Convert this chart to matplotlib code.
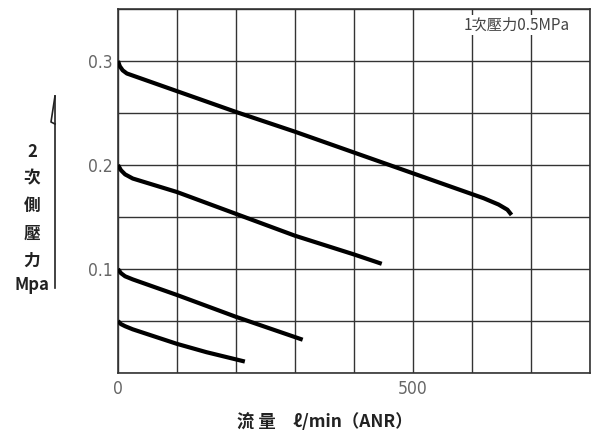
import matplotlib.pyplot as plt

# 流量 l/min (ANR) vs 2次側壓力 MPa, 1次壓力 0.5MPa
flow_a = [0, 3, 8, 15, 30, 100, 200, 300, 400, 500, 580, 620, 645, 660, 667]
pres_a = [0.300, 0.295, 0.291, 0.288, 0.285, 0.271, 0.251, 0.232, 0.212, 0.192, 0.176, 0.168, 0.162, 0.157, 0.152]

flow_b = [0, 5, 12, 25, 100, 200, 300, 400, 447]
pres_b = [0.200, 0.195, 0.191, 0.187, 0.174, 0.153, 0.132, 0.114, 0.105]

flow_c = [0, 5, 12, 25, 100, 200, 313]
pres_c = [0.100, 0.096, 0.093, 0.090, 0.075, 0.054, 0.032]

flow_d = [0, 5, 12, 25, 100, 150, 215]
pres_d = [0.050, 0.047, 0.045, 0.042, 0.028, 0.020, 0.011]

x_ticks = list(range(0, 801, 100))
x_labels = ["0", "", "", "", "", "500", "", "", ""]
y_ticks = [0, 0.05, 0.1, 0.15, 0.2, 0.25, 0.3, 0.35]
y_labels = ["", "", "0.1", "", "0.2", "", "0.3", ""]

cjk = ["Noto Sans CJK TC", "DejaVu Sans"]

fig = plt.figure(figsize=(5.92, 4.34), dpi=100)
ax = fig.add_axes([118 / 592, 1 - 373 / 434, 472 / 592, 364 / 434])

for fx, py in [(flow_a, pres_a), (flow_b, pres_b), (flow_c, pres_c), (flow_d, pres_d)]:
    ax.plot(fx, py, color="black", lw=3, solid_capstyle="butt",
            solid_joinstyle="round", zorder=3)

ax.set_xlim(0, 800)
ax.set_ylim(0, 0.35)
ax.set_xticks(x_ticks)
ax.set_xticklabels(x_labels, family="DejaVu Sans", fontstretch="condensed",
                   fontweight="light", fontsize=12.5, color="#666666")
ax.set_yticks(y_ticks)
ax.set_yticklabels(y_labels, family="DejaVu Sans", fontstretch="condensed",
                   fontweight="light", fontsize=12.5, color="#666666")
ax.tick_params(length=0)
ax.tick_params(axis="x", pad=5)
ax.tick_params(axis="y", pad=4)
ax.grid(True, color="#333333", lw=1)
for s in ax.spines.values():
    s.set_color("#333333")
    s.set_linewidth(1.2)

ax.text(0.958, 0.956, "1次壓力0.5MPa", transform=ax.transAxes, ha="right", va="center",
        family=cjk, fontsize=11, color="#444444",
        bbox=dict(facecolor="white", edgecolor="none", pad=1), zorder=4)

# stacked y label
for ch, y in [("2", 152), ("次", 178), ("側", 206), ("壓", 234), ("力", 261), ("Mpa", 285)]:
    fig.text(32 / 592, 1 - y / 434, ch, ha="center", va="center",
             family=cjk, fontsize=12, fontweight="bold", color="#222222")

# arrow beside y label
fig.add_artist(plt.Line2D([55 / 592, 55 / 592], [1 - 288 / 434, 1 - 96 / 434],
                          color="#222222", lw=1.2))
fig.add_artist(plt.Line2D([55 / 592, 51 / 592, 55 / 592], [1 - 96 / 434, 1 - 122 / 434, 1 - 124 / 434],
                          color="#222222", lw=1.2))

fig.text(325 / 592, 1 - 422 / 434, "流 量　ℓ/min（ANR）", ha="center", va="center",
         family=cjk, fontsize=12.5, fontweight="bold", color="#222222")

fig.savefig("out.png", dpi=100)
plt.close(fig)
